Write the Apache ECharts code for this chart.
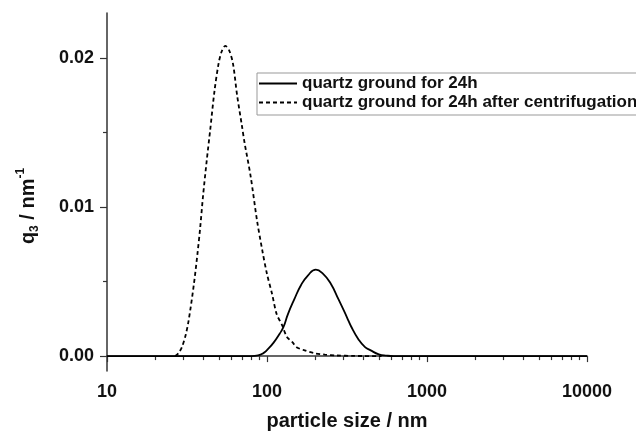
<!DOCTYPE html>
<html>
<head>
<meta charset="utf-8">
<script src="https://cdn.jsdelivr.net/npm/echarts@6/dist/echarts.min.js"></script>
<style>
  html, body { margin: 0; background: #fff; }
  #chart { width: 636px; height: 433px; }
</style>
</head>
<body>
<div id="chart"></div>
<script>
// particle size (nm) and q3 (1/nm)
const sizeGround = [10, 80, 88, 95, 100, 110, 120, 127, 135, 148, 163, 180, 202, 225, 249, 280, 316, 335, 374, 410, 442, 500, 562, 620, 10000];
const q3Ground = [0, 0, 0.00005, 0.0002, 0.0004, 0.0009, 0.0015, 0.00197, 0.0028, 0.0038, 0.00475, 0.0054, 0.0058, 0.0055, 0.0049, 0.0038, 0.0026, 0.002, 0.0011, 0.0006, 0.0004, 0.00012, 0.00003, 0, 0];

const sizeCentrifuged = [26.7, 28, 29.4, 31, 32.4, 34.8, 36.8, 38.3, 39.8, 42, 44.2, 47, 49.8, 52, 54.8, 58, 61.3, 65, 69.8, 72.4, 78.9, 86.6, 93.4, 100, 107.4, 115, 124, 133, 145, 153, 170, 196, 230, 273, 350, 520];
const q3Centrifuged = [0, 0.0002, 0.0006, 0.0014, 0.0024, 0.0047, 0.0069, 0.0087, 0.0107, 0.0131, 0.0152, 0.0178, 0.0196, 0.0204, 0.0208, 0.0205, 0.0196, 0.0175, 0.0154, 0.0143, 0.0121, 0.0091, 0.0071, 0.0055, 0.0042, 0.0028, 0.0021, 0.0013, 0.0009, 0.0006, 0.0004, 0.0002, 0.0001, 0.00004, 0.00001, 0];

const seriesNames = ["quartz ground for 24h", "quartz ground for 24h after centrifugation"];

const xMajorTicks = [10, 100, 1000, 10000];
const xMinorTicks = [20, 30, 40, 50, 60, 70, 80, 90, 200, 300, 400, 500, 600, 700, 800, 900, 2000, 3000, 4000, 5000, 6000, 7000, 8000, 9000];
const yMajorTicks = [0, 0.01, 0.02];
const yMinorTicks = [0.005, 0.015];

const FONT = "Liberation Sans, Arial, Helvetica, sans-serif";
const AXIS_COLOR = "#333";

const zip = (xs, ys) => xs.map((x, i) => [x, ys[i]]);

const chart = echarts.init(document.getElementById("chart"));

const option = {
  animation: false,
  backgroundColor: "#fff",
  grid: {
    left: 107,
    right: 49,
    top: 13,
    bottom: 62,
    containLabel: false,
    outerBoundsMode: "none",
  },
  legend: {
    orient: "vertical",
    left: 257,
    top: 73,
    align: "left",
    itemWidth: 38,
    itemHeight: 14,
    itemGap: 2,
    padding: [2, 4, 4, 1],
    borderColor: "#999",
    borderWidth: 1,
    itemStyle: { opacity: 0 },
    textStyle: {
      fontFamily: FONT,
      fontWeight: "bold",
      fontSize: 17,
      lineHeight: 17,
      color: "#111",
    },
    data: seriesNames,
  },
  xAxis: [
    {
      type: "log",
      logBase: 10,
      min: 10,
      max: 10000,
      position: "bottom",
      axisLine: { lineStyle: { color: AXIS_COLOR, width: 1.5 } },
      axisTick: { customValues: xMajorTicks, length: 6, lineStyle: { color: AXIS_COLOR, width: 1.2 } },
      axisLabel: {
        customValues: xMajorTicks,
        margin: 12,
        fontFamily: FONT,
        fontWeight: "bold",
        fontSize: 18,
        color: "#111",
        formatter: (v) => String(Math.round(v)),
      },
      splitLine: { show: false },
      name: "particle size / nm",
      nameLocation: "middle",
      nameGap: 40,
      nameTextStyle: { fontFamily: FONT, fontWeight: "bold", fontSize: 20, color: "#111" },
    },
    {
      type: "log",
      logBase: 10,
      min: 10,
      max: 10000,
      position: "bottom",
      axisLine: { show: false },
      axisTick: { customValues: xMinorTicks, length: 4, lineStyle: { color: AXIS_COLOR, width: 1.2 } },
      axisLabel: { show: false },
      splitLine: { show: false },
    },
  ],
  yAxis: [
    {
      type: "value",
      min: -0.001,
      max: 0.023,
      position: "left",
      axisLine: { show: true, lineStyle: { color: AXIS_COLOR, width: 1.5 } },
      axisTick: { show: true, customValues: yMajorTicks, length: 7, lineStyle: { color: AXIS_COLOR, width: 1.2 } },
      axisLabel: {
        customValues: yMajorTicks,
        margin: 13,
        fontFamily: FONT,
        fontWeight: "bold",
        fontSize: 18,
        color: "#111",
        formatter: (v) => v.toFixed(2),
      },
      splitLine: { show: false },
      name: "{q|q}{sub|3}{q| / nm}{sup|-1}",
      nameLocation: "middle",
      nameRotate: 90,
      nameGap: 66,
      nameTextStyle: {
        padding: [0, 28, 0, 0],
        rich: {
          q: { fontFamily: FONT, fontWeight: "bold", fontSize: 20, lineHeight: 26, color: "#111" },
          sub: { fontFamily: FONT, fontWeight: "bold", fontSize: 12, verticalAlign: "bottom", color: "#111" },
          sup: { fontFamily: FONT, fontWeight: "bold", fontSize: 12, verticalAlign: "top", color: "#111" },
        },
      },
    },
    {
      type: "value",
      min: -0.001,
      max: 0.023,
      position: "left",
      axisLine: { show: false },
      axisTick: { show: true, customValues: yMinorTicks, length: 4, lineStyle: { color: AXIS_COLOR, width: 1.2 } },
      axisLabel: { show: false },
      splitLine: { show: false },
    },
  ],
  series: [
    {
      name: seriesNames[0],
      type: "line",
      xAxisIndex: 0,
      yAxisIndex: 0,
      data: zip(sizeGround, q3Ground),
      symbol: "none",
      smooth: 0.5,
      lineStyle: { color: "#000", width: 1.8, type: "solid" },
      itemStyle: { color: "#000" },
      z: 3,
    },
    {
      name: seriesNames[1],
      type: "line",
      xAxisIndex: 0,
      yAxisIndex: 0,
      data: zip(sizeCentrifuged, q3Centrifuged),
      symbol: "none",
      smooth: 0.3,
      lineStyle: { color: "#000", width: 1.8, type: [4, 3] },
      itemStyle: { color: "#000" },
      z: 2,
    },
  ],
};

chart.setOption(option);
</script>
</body>
</html>
